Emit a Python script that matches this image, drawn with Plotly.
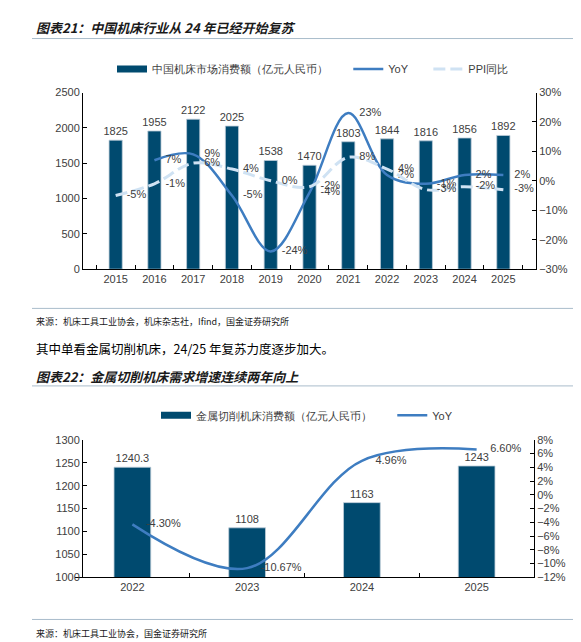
import plotly.graph_objects as go

# chart 21 data
years1 = ["2015", "2016", "2017", "2018", "2019", "2020", "2021", "2022", "2023", "2024", "2025"]
market = [1825, 1955, 2122, 2025, 1538, 1470, 1803, 1844, 1816, 1856, 1892]
yoy_years1 = years1[1:]
yoy1 = [7, 9, -5, -24, -4, 23, 2, -1, 2, 2]
ppi = [-5, -1, 6, 4, 0, -2, 8, 4, -3, -2, -3]

# chart 22 data
years2 = ["2022", "2023", "2024", "2025"]
cutting = [1240.3, 1108, 1163, 1243]
yoy2 = [-4.30, -10.67, 4.96, 6.60]

W, H = 581, 642
BAR = "#004a6f"
LINE = "#3e7dc1"
PPI = "#cfe2f3"
TXT = "#404040"
FONT = "Liberation Sans, Arial, sans-serif"
CJK = "Noto Sans CJK SC"
FS = 11
PAD = "\u00a0" * 5  # extra room between legend entries


def px(x):
    return x / W


def py(y):
    return 1 - y / H


fig = go.Figure()

# ---- chart 21 ----
fig.add_trace(go.Bar(
    x=years1, y=market, name="中国机床市场消费额（亿元人民币）", showlegend=False,
    marker=dict(color=BAR, line=dict(color="#bccbd8", width=0.8)),
    width=0.34, text=[str(v) for v in market], textposition="outside",
    constraintext="none", cliponaxis=False,
    textfont=dict(size=FS, color=TXT, family=FONT),
    xaxis="x", yaxis="y",
))
# legend proxy: wide bar swatch like the original
fig.add_trace(go.Scatter(
    x=[None], y=[None], name="中国机床市场消费额（亿元人民币）" + PAD, mode="lines",
    line=dict(color=BAR, width=7), xaxis="x", yaxis="y", legend="legend",
))
fig.add_trace(go.Scatter(
    x=yoy_years1, y=yoy1, name="YoY" + PAD, mode="lines+markers+text",
    line=dict(color=LINE, width=2.5, shape="spline", smoothing=1),
    marker=dict(size=16, color="rgba(0,0,0,0)"),
    text=[f"{v}%" for v in yoy1], textposition="middle right",
    textfont=dict(size=FS, color=TXT, family=FONT), cliponaxis=False,
    xaxis="x", yaxis="y2", legend="legend",
))
fig.add_trace(go.Scatter(
    x=years1, y=ppi, name="PPI同比", mode="lines+markers+text",
    line=dict(color=PPI, width=3, dash="12px,5px", shape="spline", smoothing=1),
    marker=dict(size=16, color="rgba(0,0,0,0)"),
    text=[f"{v}%" for v in ppi], textposition="middle right",
    textfont=dict(size=FS, color=TXT, family=FONT), cliponaxis=False,
    xaxis="x", yaxis="y2", legend="legend",
))

# ---- chart 22 ----
fig.add_trace(go.Bar(
    x=years2, y=cutting, name="金属切削机床消费额（亿元人民币）", showlegend=False,
    marker=dict(color=BAR, line=dict(color="#bccbd8", width=0.8)),
    width=0.32, text=[f"{v:g}" for v in cutting], textposition="outside",
    constraintext="none", cliponaxis=False,
    textfont=dict(size=FS, color=TXT, family=FONT),
    xaxis="x2", yaxis="y3",
))
fig.add_trace(go.Scatter(
    x=[None], y=[None], name="金属切削机床消费额（亿元人民币）" + PAD, mode="lines",
    line=dict(color=BAR, width=7), xaxis="x2", yaxis="y3", legend="legend2",
))
fig.add_trace(go.Scatter(
    x=years2, y=yoy2, name="YoY", mode="lines+markers+text",
    line=dict(color=LINE, width=2.5, shape="spline", smoothing=1),
    marker=dict(size=20, color="rgba(0,0,0,0)"),
    text=[f"{v:.2f}%" for v in yoy2], textposition="middle right",
    textfont=dict(size=FS, color=TXT, family=FONT), cliponaxis=False,
    xaxis="x2", yaxis="y4", legend="legend2",
))

axis_common = dict(showline=True, linecolor="#000000", linewidth=1, showgrid=False,
                   zeroline=False, tickfont=dict(size=FS, color=TXT, family=FONT),
                   tickcolor="#000000", ticklen=4, ticks="inside")

legend_font = dict(size=FS, color=TXT, family=FONT)

fig.update_layout(
    width=W, height=H, margin=dict(l=0, r=0, t=0, b=0),
    paper_bgcolor="white", plot_bgcolor="white",
    font=dict(family=FONT, color=TXT),
    xaxis=dict(domain=[px(75), px(528)], anchor="y", type="category",
               tickson="boundaries", **axis_common),
    yaxis=dict(domain=[py(260), py(80)], range=[0, 2500], dtick=500, **axis_common),
    yaxis2=dict(overlaying="y", side="right", anchor="x", range=[-30, 30], dtick=10,
                ticksuffix="%", **axis_common),
    xaxis2=dict(domain=[px(67), px(526)], anchor="y3", type="category",
                tickson="boundaries", **axis_common),
    yaxis3=dict(domain=[py(574), py(434)], range=[1000, 1300], dtick=50, **axis_common),
    yaxis4=dict(overlaying="y3", side="right", anchor="x2", range=[-12, 8], dtick=2,
                ticksuffix="%", **axis_common),
    legend=dict(orientation="h", x=px(305), xanchor="center", y=py(56), yanchor="middle",
                font=legend_font, bgcolor="rgba(0,0,0,0)"),
    legend2=dict(orientation="h", x=px(299), xanchor="center", y=py(409), yanchor="middle",
                 font=legend_font, bgcolor="rgba(0,0,0,0)"),
)

# titles, body text and sources
texts = [
    ("<b><i>图表21：中国机床行业从 24 年已经开始复苏</i></b>", 26, 14, 13, "#1a1a1a"),
    ("来源：机床工具工业协会，机床杂志社，Ifind，国金证券研究所", 26, 313, 9, "#1a1a1a"),
    ("其中单看金属切削机床，24/25 年复苏力度逐步加大。", 26, 341, 12.5, "#000000"),
    ("<b><i>图表22：金属切削机床需求增速连续两年向上</i></b>", 26, 369, 13, "#1a1a1a"),
    ("来源：机床工具工业协会，国金证券研究所", 26, 631, 9, "#1a1a1a"),
]
for t, x, y, s, c in texts:
    fig.add_annotation(text=t, xref="paper", yref="paper", x=px(x), y=py(y),
                       xanchor="left", yanchor="middle", showarrow=False,
                       font=dict(family=CJK, size=s, color=c))

for y in [25, 300, 379, 617]:
    fig.add_shape(type="line", xref="paper", yref="paper", x0=px(24), x1=px(571),
                  y0=py(y), y1=py(y), line=dict(color="#a9bccb", width=1))

fig.write_html("out.html")
